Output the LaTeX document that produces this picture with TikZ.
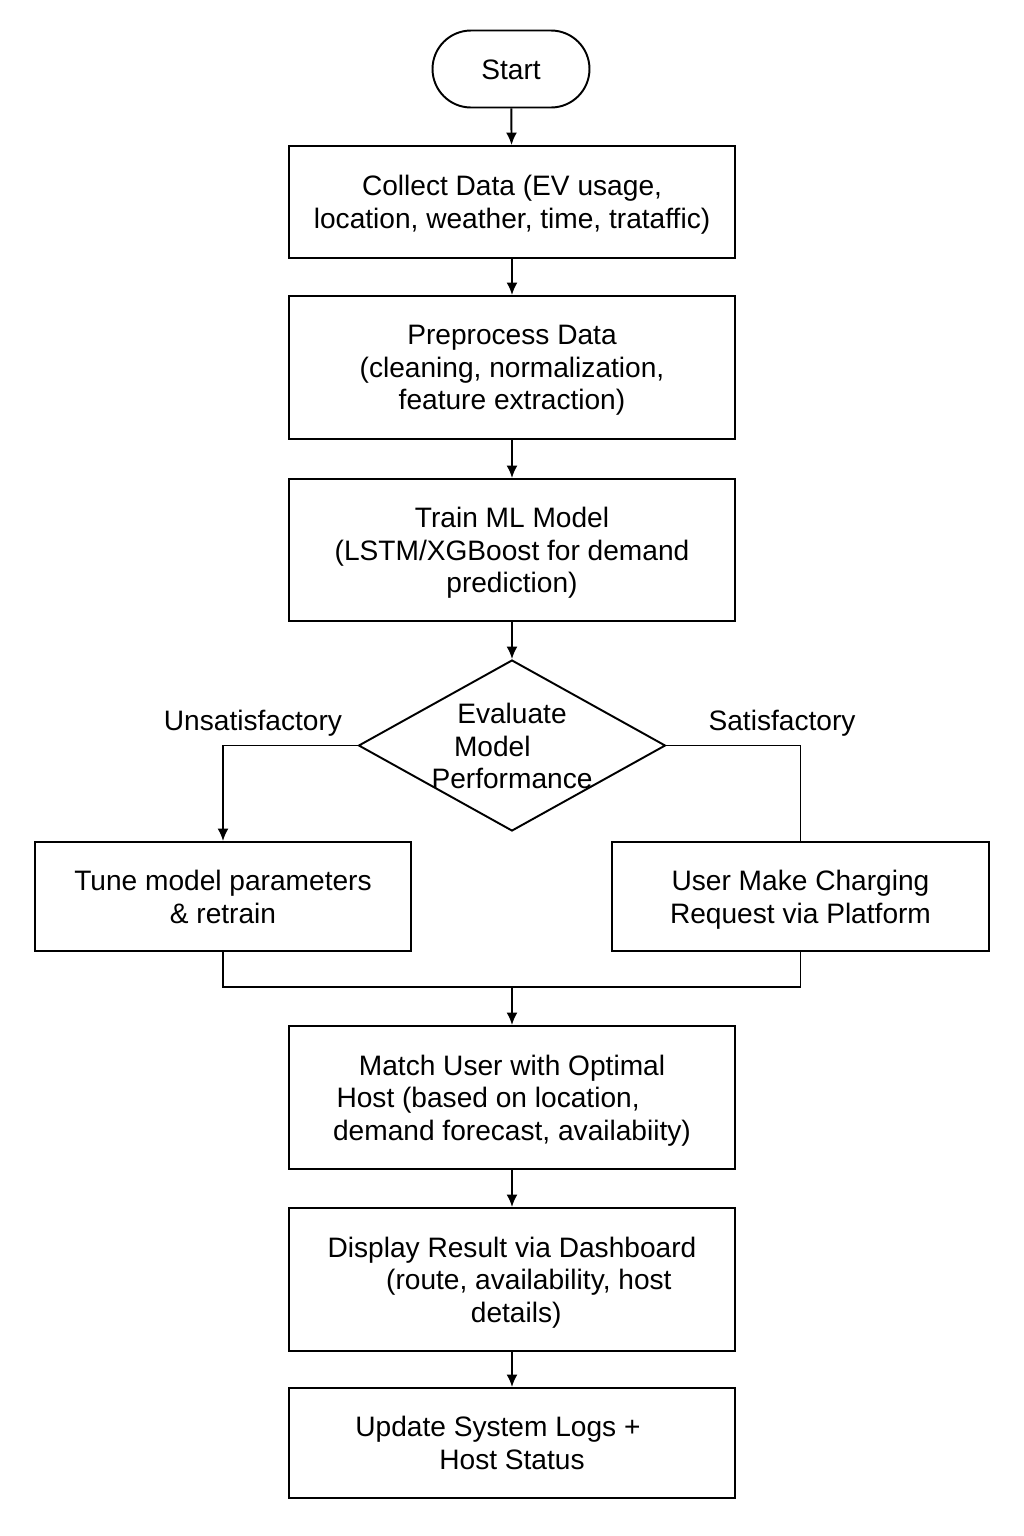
\documentclass[tikz,border=0pt]{standalone}
\usepackage{fontspec}
\setmainfont{Liberation Sans}
\usetikzlibrary{shapes.geometric,shapes.misc,arrows.meta}
\begin{document}
\begin{tikzpicture}[x=0.02cm,y=-0.02cm,
  every node/.style={font=\fontsize{16}{18.6}\selectfont, align=center, inner sep=0pt,
    text depth=0pt, execute at begin node={\rule{0pt}{11.5pt}}},
  box/.style={draw, rectangle, line width=1.1pt, minimum width=8.92cm},
  term/.style={draw, rounded rectangle, line width=1.1pt, minimum width=3.14cm, minimum height=1.54cm},
  decision/.style={draw, diamond, line width=1.1pt, minimum width=6.14cm, minimum height=3.42cm},
  conn/.style={line width=1.1pt},
  arr/.style={conn, -{Latex[length=0.25cm,width=0.22cm]}}
]
\useasboundingbox (0,0) rectangle (1024,1536);
\fill[white] (0,0) rectangle (1024,1536);

\node[term] (start) at (511,69) {Start};
\node[box, minimum height=2.24cm] (collect) at (512,202) {Collect Data (EV usage,\\location, weather, time, trataffic)};
\node[box, minimum height=2.86cm] (prep) at (512,367.5) {Preprocess Data\\(cleaning, normalization,\\feature extraction)};
\node[box, minimum height=2.84cm] (train) at (512,550) {Train ML Model\\(LSTM/XGBoost for demand\\prediction)};
\node[decision] (eval) at (512,745.5) {};
\node (evaltext) at (512,746) {Evaluate\\\hspace*{-1.4em}Model\\Performance};
\node (unsat) at (253,720) {Unsatisfactory};
\node (sat) at (782,720) {Satisfactory};
\node[box, minimum width=7.52cm, minimum height=2.18cm] (tune) at (223,896.5) {Tune model parameters\\\& retrain};
\node[box, minimum width=7.54cm, minimum height=2.18cm] (user) at (800.5,896.5) {User Make Charging\\Request via Platform};
\coordinate (merge) at (512,987);
\node[box, minimum height=2.86cm] (match) at (512,1097.5) {Match User with Optimal\\\hspace*{-1.7em}Host (based on location,\\demand forecast, availabiity)};
\node[box, minimum height=2.86cm] (disp) at (512,1279.5) {Display Result via Dashboard\\\hspace*{1.2em}(route, availability, host\\\hspace*{0.3em}details)};
\node[box, minimum height=2.2cm] (update) at (512,1443) {\hspace*{-1em}Update System Logs +\\Host Status};

\draw[arr] (start) -- (collect);
\draw[arr] (collect) -- (prep);
\draw[arr] (prep) -- (train);
\draw[arr] (train) -- (eval);
\draw[arr] (eval.west) -| (tune.north);
\draw[conn] (eval.east) -| (user.north);
\draw[conn] (tune.south) |- (merge) -| (user.south);
\draw[arr] (merge) -- (match);
\draw[arr] (match) -- (disp);
\draw[arr] (disp) -- (update);
\end{tikzpicture}
\end{document}
